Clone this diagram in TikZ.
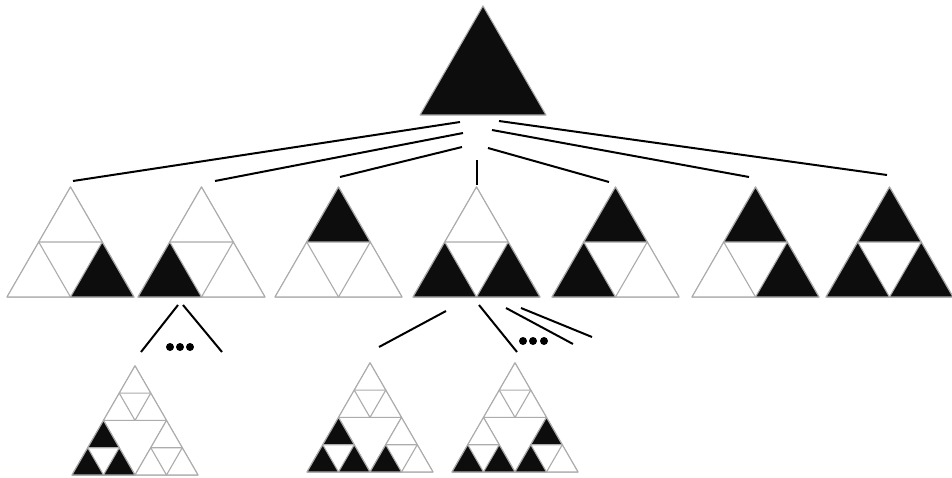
\documentclass[tikz,border=0pt]{standalone}
\usepackage{tikz}
\tikzset{
  wht/.style={fill=white, draw=gray!65, line width=1.1pt, line join=round},
  blk/.style={fill=black!95, draw=gray!65, line width=1.1pt, line join=round},
  link/.style={line width=2pt},
  dot/.style={circle, fill=black, inner sep=0pt, minimum size=8pt}
}
% one triangle: base-left x, base y, side, style
\newcommand{\tri}[4]{\path[#4] (#1,#2) -- ++(#3,0) -- ++(240:#3) -- cycle;}
% split triangle: x, y, side, top, left, right
\newcommand{\lvone}[6]{%
  \tri{#1}{#2}{#3}{wht}
  \tri{#1}{#2}{#3/2}{#5}
  \tri{#1+#3/2}{#2}{#3/2}{#6}
  \tri{#1+#3/4}{#2-0.433*#3}{#3/2}{#4}}

\begin{document}
\begin{tikzpicture}[x=1pt,y=-1pt]
\useasboundingbox (0,0) rectangle (952,477);

% root
\tri{420}{115}{126}{blk}

% first level
\lvone{7}{297}{127}{wht}{wht}{blk}
\lvone{138}{297}{127}{wht}{blk}{wht}
\lvone{275}{297}{127}{blk}{wht}{wht}
\lvone{413}{297}{127}{wht}{blk}{blk}
\lvone{552}{297}{127}{blk}{blk}{wht}
\lvone{692}{297}{127}{blk}{wht}{blk}
\lvone{826}{297}{127}{blk}{blk}{blk}

% second level
\begin{scope}[shift={(72,475)}]
  \lvone{0}{0}{63}{blk}{blk}{blk}
  \lvone{63}{0}{63}{wht}{wht}{wht}
  \lvone{31.5}{-54.6}{63}{wht}{wht}{wht}
\end{scope}
\begin{scope}[shift={(307,472)}]
  \lvone{0}{0}{63}{blk}{blk}{blk}
  \lvone{63}{0}{63}{wht}{blk}{wht}
  \lvone{31.5}{-54.6}{63}{wht}{wht}{wht}
\end{scope}
\begin{scope}[shift={(452,472)}]
  \lvone{0}{0}{63}{wht}{blk}{blk}
  \lvone{63}{0}{63}{blk}{blk}{wht}
  \lvone{31.5}{-54.6}{63}{wht}{wht}{wht}
\end{scope}

% connector ends
\coordinate (r1) at (460,122);  \coordinate (c1) at (73,181);
\coordinate (r2) at (463,133);  \coordinate (c2) at (215,181);
\coordinate (r3) at (462,147);  \coordinate (c3) at (340,177);
\coordinate (r4) at (477,160);  \coordinate (c4) at (477,185);
\coordinate (r5) at (488,148);  \coordinate (c5) at (609,182);
\coordinate (r6) at (492,130);  \coordinate (c6) at (749,177);
\coordinate (r7) at (499,121);  \coordinate (c7) at (887,175);

\coordinate (p2a) at (178,305); \coordinate (g1) at (141,352);
\coordinate (p2b) at (183,305); \coordinate (g2) at (222,352);
\coordinate (p4a) at (446,311); \coordinate (g3) at (379,347);
\coordinate (p4b) at (479,305); \coordinate (g4) at (517,352);
\coordinate (p4c) at (506,308); \coordinate (g5) at (573,344);
\coordinate (p4d) at (521,308); \coordinate (g6) at (592,337);

\foreach \a/\b in {r1/c1,r2/c2,r3/c3,r4/c4,r5/c5,r6/c6,r7/c7,
                   p2a/g1,p2b/g2,p4a/g3,p4b/g4,p4c/g5,p4d/g6}
  \draw[link] (\a) -- (\b);

% more children
\node[dot] (d1) at (170,347) {};
\node[dot] (d2) at (180,347) {};
\node[dot] (d3) at (190,347) {};
\node[dot] (d4) at (523,341) {};
\node[dot] (d5) at (533,341) {};
\node[dot] (d6) at (544,341) {};
\end{tikzpicture}
\end{document}
